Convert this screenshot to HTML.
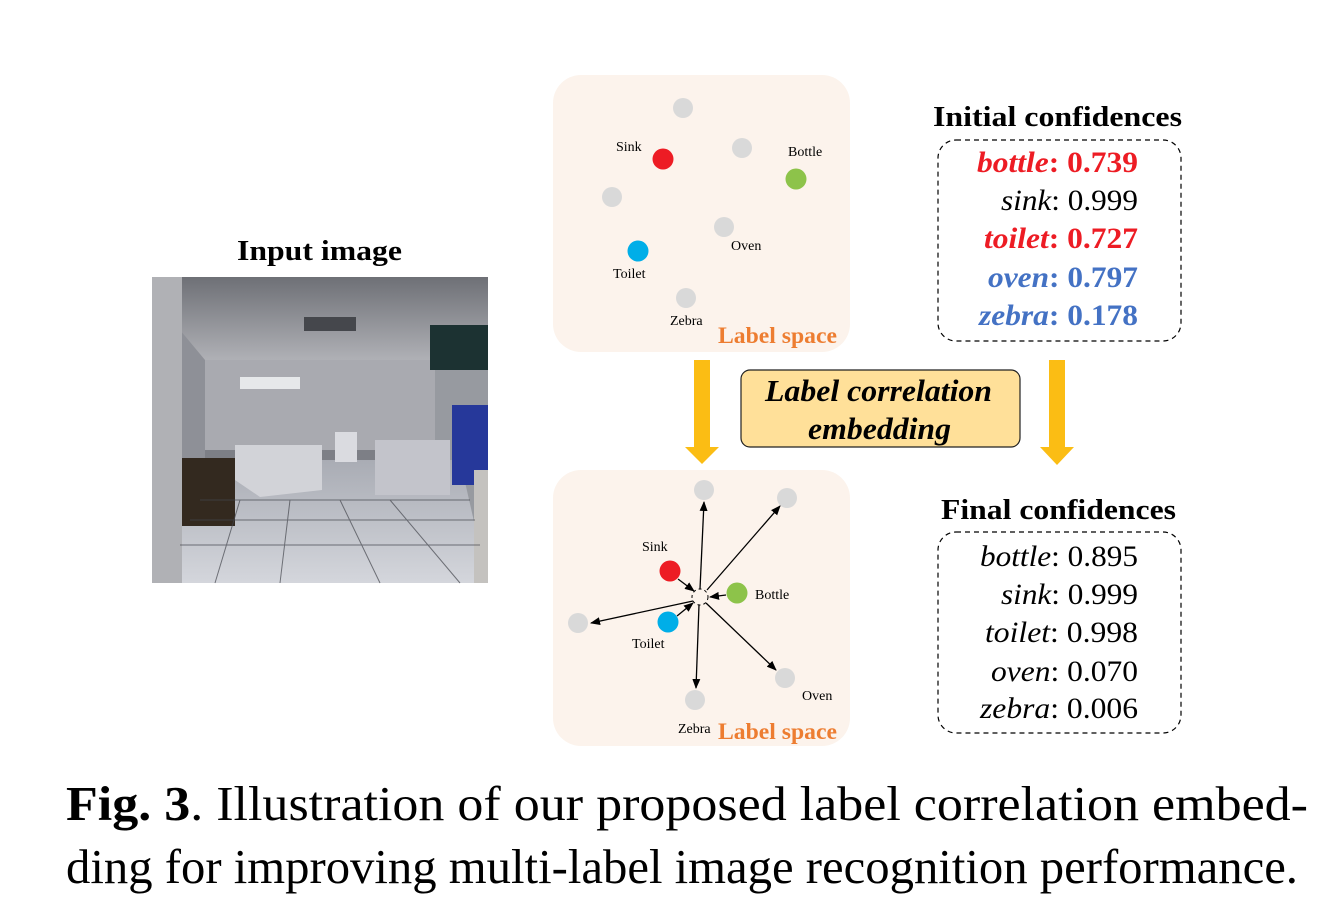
<!DOCTYPE html>
<html><head><meta charset="utf-8"><style>
html,body{margin:0;padding:0;background:#fff;}
svg{display:block;}
text{font-family:"Liberation Serif",serif;}
</style></head><body>
<svg width="1332" height="902" viewBox="0 0 1332 902" xmlns="http://www.w3.org/2000/svg">
<defs>
<marker id="ah" markerWidth="10" markerHeight="8" refX="9" refY="4" orient="auto" markerUnits="userSpaceOnUse"><path d="M0,0 L10,4 L0,8 Z" fill="#000"/></marker>
<linearGradient id="ceil" x1="0" y1="0" x2="0" y2="1"><stop offset="0" stop-color="#6e7076"/><stop offset="1" stop-color="#b5b6bb"/></linearGradient>
<linearGradient id="floor" x1="0" y1="0" x2="0" y2="1"><stop offset="0" stop-color="#a9acb4"/><stop offset="1" stop-color="#d4d6dc"/></linearGradient>
</defs>

<text x="237" y="260" font-size="28" font-weight="bold" textLength="165" lengthAdjust="spacingAndGlyphs">Input image</text>
<g>
<rect x="152" y="277" width="336" height="306" fill="#7d7f86"/>
<rect x="152" y="277" width="336" height="90" fill="url(#ceil)"/>
<rect x="205" y="360" width="230" height="90" fill="#a9aab0"/>
<polygon points="205,360 155,300 155,583 205,583" fill="#8e9097"/>
<polygon points="435,360 488,330 488,583 435,583" fill="#979aa0"/>
<polygon points="180,460 460,460 488,583 160,583" fill="url(#floor)"/>
<rect x="240" y="377" width="60" height="12" fill="#e6e8ea"/>
<rect x="304" y="317" width="52" height="14" fill="#45474c"/>
<rect x="175" y="458" width="60" height="68" fill="#33291f"/>
<polygon points="235,445 322,445 322,490 260,497 235,480" fill="#d2d3d8"/>
<rect x="335" y="432" width="22" height="30" fill="#dadbe0"/>
<rect x="375" y="440" width="75" height="55" fill="#c3c4cb"/>
<rect x="430" y="325" width="58" height="45" fill="#1c3232"/>
<rect x="452" y="405" width="36" height="80" fill="#26389a"/>
<rect x="152" y="277" width="30" height="306" fill="#b0b1b5"/>
<rect x="474" y="470" width="14" height="113" fill="#c4c2bf"/>
<g stroke="#44464d" stroke-width="1" opacity="0.7">
<line x1="200" y1="500" x2="470" y2="500"/><line x1="190" y1="520" x2="475" y2="520"/><line x1="180" y1="545" x2="480" y2="545"/>
<line x1="240" y1="500" x2="215" y2="583"/><line x1="290" y1="500" x2="280" y2="583"/><line x1="340" y1="500" x2="380" y2="583"/><line x1="390" y1="500" x2="460" y2="583"/>
</g>
</g>

<rect x="553" y="75" width="297" height="277" rx="28" fill="#fcf3ec"/>
<g fill="#d9d9d9">
<circle cx="683" cy="108" r="10"/><circle cx="742" cy="148" r="10"/><circle cx="612" cy="197" r="10"/>
<circle cx="724" cy="227" r="10"/><circle cx="686" cy="298" r="10"/>
</g>
<circle cx="663" cy="159" r="10.5" fill="#ed1c24"/>
<circle cx="796" cy="179" r="10.5" fill="#8dc34a"/>
<circle cx="638" cy="251" r="10.5" fill="#00aee8"/>
<g font-size="14">
<text x="616" y="151">Sink</text><text x="788" y="156">Bottle</text><text x="731" y="250">Oven</text>
<text x="613" y="278">Toilet</text><text x="670" y="325">Zebra</text>
</g>
<text x="718" y="343" font-size="23" font-weight="bold" fill="#ed7d31" textLength="119" lengthAdjust="spacingAndGlyphs">Label space</text>

<g fill="#fbbd14">
<rect x="694" y="360" width="16" height="88"/><polygon points="685,447 719,447 702,464"/>
<rect x="1049" y="360" width="16" height="88"/><polygon points="1040,447 1074,447 1057,465"/>
</g>
<rect x="741" y="370" width="279" height="77" rx="9" fill="#ffe099" stroke="#222" stroke-width="1.2"/>
<g font-size="31" font-weight="bold" font-style="italic">
<text x="765" y="401" textLength="227" lengthAdjust="spacingAndGlyphs">Label correlation</text>
<text x="808" y="439" textLength="143" lengthAdjust="spacingAndGlyphs">embedding</text>
</g>

<rect x="553" y="470" width="297" height="276" rx="28" fill="#fcf3ec"/>
<g fill="#d9d9d9">
<circle cx="704" cy="490" r="10"/><circle cx="787" cy="498" r="10"/><circle cx="578" cy="623" r="10"/>
<circle cx="785" cy="678" r="10"/><circle cx="695" cy="700" r="10"/>
</g>
<circle cx="670" cy="571" r="10.5" fill="#ed1c24"/>
<circle cx="737" cy="593" r="10.5" fill="#8dc34a"/>
<circle cx="668" cy="622" r="10.5" fill="#00aee8"/>
<circle cx="700" cy="597" r="8" fill="none" stroke="#000" stroke-width="1" stroke-dasharray="3,3"/>
<g stroke="#000" stroke-width="1.3" marker-end="url(#ah)">
<line x1="700" y1="589" x2="704" y2="502"/>
<line x1="707" y1="590" x2="780" y2="506"/>
<line x1="693" y1="601" x2="591" y2="623"/>
<line x1="706" y1="603" x2="776" y2="670"/>
<line x1="699" y1="605" x2="696" y2="688"/>
<line x1="678" y1="579" x2="694" y2="591"/>
<line x1="726" y1="595" x2="710" y2="597"/>
<line x1="677" y1="616" x2="693" y2="603"/>
</g>
<g font-size="14">
<text x="642" y="551">Sink</text><text x="755" y="599">Bottle</text><text x="632" y="648">Toilet</text>
<text x="802" y="700">Oven</text><text x="678" y="733">Zebra</text>
</g>
<text x="718" y="739" font-size="23" font-weight="bold" fill="#ed7d31" textLength="119" lengthAdjust="spacingAndGlyphs">Label space</text>

<text x="933" y="126" font-size="29" font-weight="bold" textLength="249" lengthAdjust="spacingAndGlyphs">Initial confidences</text>
<rect x="938" y="140" width="243" height="201" rx="18" fill="none" stroke="#000" stroke-width="1.2" stroke-dasharray="5,4"/>
<g font-size="30">
<text x="977" y="172" fill="#ed1c24" font-weight="bold" textLength="161" lengthAdjust="spacingAndGlyphs"><tspan font-style="italic">bottle</tspan>: 0.739</text>
<text x="1001" y="210" textLength="137" lengthAdjust="spacingAndGlyphs"><tspan font-style="italic">sink</tspan>: 0.999</text>
<text x="984" y="248" fill="#ed1c24" font-weight="bold" textLength="154" lengthAdjust="spacingAndGlyphs"><tspan font-style="italic">toilet</tspan>: 0.727</text>
<text x="988" y="287" fill="#4472c4" font-weight="bold" textLength="150" lengthAdjust="spacingAndGlyphs"><tspan font-style="italic">oven</tspan>: 0.797</text>
<text x="979" y="325" fill="#4472c4" font-weight="bold" textLength="159" lengthAdjust="spacingAndGlyphs"><tspan font-style="italic">zebra</tspan>: 0.178</text>
</g>

<text x="941" y="519" font-size="29" font-weight="bold" textLength="235" lengthAdjust="spacingAndGlyphs">Final confidences</text>
<rect x="938" y="532" width="243" height="201" rx="18" fill="none" stroke="#000" stroke-width="1.2" stroke-dasharray="5,4"/>
<g font-size="30">
<text x="980" y="566" textLength="158" lengthAdjust="spacingAndGlyphs"><tspan font-style="italic">bottle</tspan>: 0.895</text>
<text x="1001" y="604" textLength="137" lengthAdjust="spacingAndGlyphs"><tspan font-style="italic">sink</tspan>: 0.999</text>
<text x="985" y="642" textLength="153" lengthAdjust="spacingAndGlyphs"><tspan font-style="italic">toilet</tspan>: 0.998</text>
<text x="991" y="681" textLength="147" lengthAdjust="spacingAndGlyphs"><tspan font-style="italic">oven</tspan>: 0.070</text>
<text x="980" y="718" textLength="158" lengthAdjust="spacingAndGlyphs"><tspan font-style="italic">zebra</tspan>: 0.006</text>
</g>

<text x="66" y="820" font-size="49" textLength="1242" lengthAdjust="spacingAndGlyphs"><tspan font-weight="bold">Fig. 3</tspan>. Illustration of our proposed label correlation embed-</text>
<text x="66" y="883" font-size="49" textLength="1232" lengthAdjust="spacingAndGlyphs">ding for improving multi-label image recognition performance.</text>
</svg>
</body></html>
